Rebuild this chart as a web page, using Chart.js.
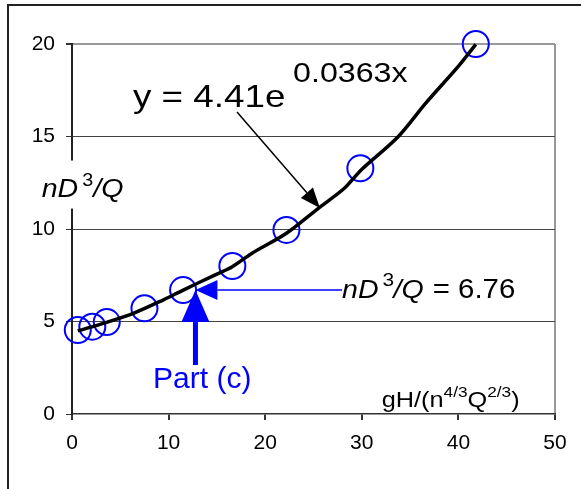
<!DOCTYPE html>
<html>
<head>
<meta charset="utf-8">
<script src="https://cdn.jsdelivr.net/npm/chart.js@4/dist/chart.umd.min.js"></script>
<style>
  html, body { margin: 0; padding: 0; background: #fff; overflow: hidden; }
  #frame { position: absolute; left: 7px; top: 4px; width: 700px; height: 600px; border: 2px solid #222; }
  #wrap { position: absolute; left: 0; top: 0; width: 581px; height: 489px; }
</style>
</head>
<body>
<div id="frame"></div>
<div id="wrap"><canvas id="c" width="581" height="489"></canvas></div>
<script>
// ---- data ----
const xTickValues = [0, 10, 20, 30, 40, 50];
const yTickValues = [0, 5, 10, 15, 20];
const pointX = [0.6, 2.1, 3.6, 7.5, 11.5, 16.6, 22.2, 29.85, 41.8];
const pointY = [4.54, 4.72, 4.97, 5.71, 6.70, 8.00, 9.95, 13.28, 20.0];
const curveX = [0.6, 3.67, 6.35, 9.42, 11.52, 14.78, 16.59, 18.6, 22.2, 25.5, 28.2, 29.93, 33.76, 36.6, 40.1, 41.8];
const curveY = [4.49, 4.97, 5.44, 6.16, 6.70, 7.51, 7.96, 8.68, 9.77, 11.12, 12.2, 13.19, 14.99, 16.79, 18.86, 19.98];
const partCValue = 6.76;
const partCX = 12.78;
const eqText = 'y = 4.41e';
const eqExp = '0.0363x';
const xTitle = ['gH/(n', '4/3', 'Q', '2/3', ')'];

const FONT = '"Liberation Sans", Arial, sans-serif';

function txt(ctx, s, x, y, size, opt) {
  opt = opt || {};
  const sx = opt.sx || 1.15;
  ctx.save();
  ctx.font = (opt.italic ? 'italic ' : '') + size + 'px ' + FONT;
  ctx.fillStyle = opt.color || '#000';
  ctx.textBaseline = 'alphabetic';
  ctx.textAlign = 'left';
  ctx.translate(x, y);
  ctx.scale(sx, 1);
  ctx.fillText(s, 0, 0);
  const w = ctx.measureText(s).width * sx;
  ctx.restore();
  return w;
}

function arrow(ctx, x1, y1, x2, y2, headLen, headHalf, lw, color) {
  const ang = Math.atan2(y2 - y1, x2 - x1);
  const bx = x2 - headLen * Math.cos(ang), by = y2 - headLen * Math.sin(ang);
  ctx.save();
  ctx.strokeStyle = color; ctx.fillStyle = color; ctx.lineWidth = lw;
  ctx.beginPath(); ctx.moveTo(x1, y1); ctx.lineTo(bx, by); ctx.stroke();
  ctx.beginPath();
  ctx.moveTo(x2, y2);
  ctx.lineTo(bx + headHalf * Math.sin(ang), by - headHalf * Math.cos(ang));
  ctx.lineTo(bx - headHalf * Math.sin(ang), by + headHalf * Math.cos(ang));
  ctx.closePath(); ctx.fill();
  ctx.restore();
}

const annotations = {
  id: 'annotations',
  afterDraw(chart) {
    const ctx = chart.ctx;
    const X = v => chart.scales.x.getPixelForValue(v);
    const Y = v => chart.scales.y.getPixelForValue(v);

    // y-axis title with white box interrupting the axis line
    ctx.save();
    ctx.fillStyle = '#fff';
    ctx.fillRect(X(-3.6), Y(13.7), 95, 48);
    ctx.restore();
    let x0 = X(-3.14), yb = Y(11.73);
    let w = txt(ctx, 'nD', x0, yb, 26, { italic: true, sx: 1.1 });
    txt(ctx, '3', x0 + w + 4, yb - 11, 18, { sx: 1.1 });
    txt(ctx, '/Q', x0 + w + 15, yb, 26, { italic: true, sx: 1.1 });

    // equation
    txt(ctx, eqText, X(6.31), Y(16.61), 32, {});
    txt(ctx, eqExp, X(22.88), Y(17.95), 28, {});
    arrow(ctx, X(17.08), Y(16.32), X(25.67), Y(11.14), 20, 8, 1.5, '#000');

    // Part (c) arrows
    arrow(ctx, X(27.95), Y(partCValue - 0.06), X(partCX), Y(partCValue - 0.06), 22, 10, 1.5, '#0000ff');
    arrow(ctx, X(partCX), Y(2.65), X(partCX), Y(partCValue - 0.06), 32, 14, 5, '#0000ff');

    // nD^3/Q = 6.76 label
    x0 = X(27.95); yb = Y(6.27);
    w = txt(ctx, 'nD', x0, yb, 26, { italic: true, sx: 1.1 });
    txt(ctx, '3', x0 + w + 4, yb - 12, 19, { sx: 1.1 });
    const w2 = txt(ctx, '/Q', x0 + w + 15, yb, 26, { italic: true, sx: 1.1 });
    txt(ctx, '= ' + partCValue.toFixed(2), x0 + w + 15 + w2 + 9, yb, 28, { sx: 1.05 });

    // Part (c)
    txt(ctx, 'Part (c)', X(8.39), Y(1.41), 30, { color: '#0000ff', sx: 1.0 });

    // x-axis title
    x0 = X(32.06); yb = Y(0.395);
    let cx = x0;
    cx += txt(ctx, xTitle[0], cx, yb, 22, {});
    cx += txt(ctx, xTitle[1], cx, yb - 10, 15, {});
    cx += txt(ctx, xTitle[2], cx, yb, 22, {});
    cx += txt(ctx, xTitle[3], cx, yb - 10, 15, {});
    txt(ctx, xTitle[4], cx, yb, 22, {});
  }
};

new Chart(document.getElementById('c'), {
  type: 'scatter',
  data: {
    datasets: [
      {
        type: 'line',
        data: curveX.map((x, i) => ({ x: x, y: curveY[i] })),
        borderColor: '#000',
        borderWidth: 3.5,
        pointRadius: 0,
        tension: 0.3,
        fill: false,
        order: 0,
        clip: false
      },
      {
        data: pointX.map((x, i) => ({ x: x, y: pointY[i] })),
        pointStyle: 'circle',
        pointRadius: 13,
        pointBorderWidth: 2,
        borderColor: '#0000ff',
        backgroundColor: 'rgba(0,0,0,0)',
        order: 1,
        clip: false
      }
    ]
  },
  options: {
    responsive: false,
    animation: false,
    events: [],
    layout: { autoPadding: false, padding: { top: 44, right: 26, left: 0, bottom: 0 } },
    plugins: { legend: { display: false }, tooltip: { enabled: false } },
    scales: {
      x: {
        type: 'linear', min: 0, max: 50,
        afterFit(s) { s.height = 75; },
        afterBuildTicks(s) { s.ticks = xTickValues.map(v => ({ value: v })); },
        ticks: { color: '#000', font: { family: FONT, size: 21 }, padding: 11 },
        grid: {
          color: c => (c.tick && c.tick.value === 50) ? '#999' : 'rgba(0,0,0,0)',
          lineWidth: 2,
          tickColor: '#333',
          tickLength: 6
        },
        border: { color: '#333', width: 1.5 }
      },
      y: {
        type: 'linear', min: 0, max: 20,
        afterFit(s) { s.width = 72; },
        afterBuildTicks(s) { s.ticks = yTickValues.map(v => ({ value: v })); },
        ticks: { color: '#000', font: { family: FONT, size: 21 }, padding: 11 },
        grid: {
          color: c => !c.tick ? '#444' : (c.tick.value === 20 ? '#999' : (c.tick.value === 0 ? 'rgba(0,0,0,0)' : '#444')),
          lineWidth: c => (c.tick && c.tick.value === 20) ? 2 : 1,
          tickColor: '#333',
          tickLength: 6
        },
        border: { color: '#222', width: 2 }
      }
    }
  },
  plugins: [annotations]
});
</script>
</body>
</html>
